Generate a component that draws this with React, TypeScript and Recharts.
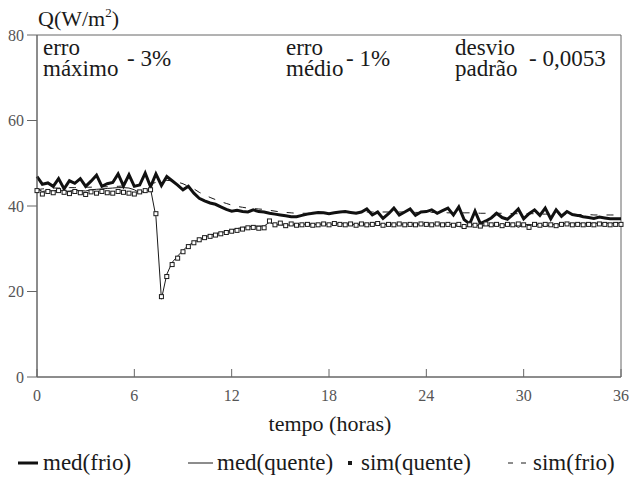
import React from "react";
import {
  LineChart,
  Line,
  XAxis,
  YAxis,
  ReferenceArea,
} from "recharts";

// tempo em horas (passo de 20 min)
const tempo = [
  0, 0.33, 0.67, 1, 1.33, 1.67, 2, 2.33, 2.67, 3, 3.33, 3.67,
  4, 4.33, 4.67, 5, 5.33, 5.67, 6, 6.33, 6.67, 7, 7.33, 7.67,
  8, 8.33, 8.67, 9, 9.33, 9.67, 10, 10.33, 10.67, 11, 11.33, 11.67,
  12, 12.33, 12.67, 13, 13.33, 13.67, 14, 14.33, 14.67, 15, 15.33, 15.67,
  16, 16.33, 16.67, 17, 17.33, 17.67, 18, 18.33, 18.67, 19, 19.33, 19.67,
  20, 20.33, 20.67, 21, 21.33, 21.67, 22, 22.33, 22.67, 23, 23.33, 23.67,
  24, 24.33, 24.67, 25, 25.33, 25.67, 26, 26.33, 26.67, 27, 27.33, 27.67,
  28, 28.33, 28.67, 29, 29.33, 29.67, 30, 30.33, 30.67, 31, 31.33, 31.67,
  32, 32.33, 32.67, 33, 33.33, 33.67, 34, 34.33, 34.67, 35, 35.33, 35.67,
  36,
];

const medFrio = [
  46.9, 45.1, 45.4, 44.6, 46.4, 44.0, 45.9, 45.3, 46.4, 44.6, 45.8, 47.2,
  44.6, 45.2, 45.5, 47.5, 44.7, 47.3, 44.6, 44.9, 47.7, 44.5, 47.5, 44.8,
  46.9, 45.9, 44.9, 43.8, 44.6, 43.0, 41.8, 41.2, 40.7, 40.4, 39.8, 39.2,
  38.8, 39.0, 38.7, 38.6, 39.1, 38.7, 38.6, 38.3, 38.1, 37.9, 37.7, 37.5,
  37.5, 37.8, 38.1, 38.3, 38.5, 38.4, 38.2, 38.4, 38.6, 38.7, 38.5, 38.3,
  38.6, 39.3, 37.9, 38.6, 37.1, 38.2, 39.5, 37.9, 38.6, 39.3, 37.8, 38.6,
  38.7, 39.1, 38.3, 38.9, 39.5, 37.9, 39.8, 36.8, 35.8, 38.8, 35.9, 36.5,
  37.2, 38.3, 37.3, 36.9, 38.0, 39.3, 37.0, 38.2, 39.1, 37.8, 39.5, 37.0,
  39.1, 37.6, 38.7, 38.0, 37.8, 37.5, 37.3, 37.1, 37.4, 37.2, 37.0, 37.0,
  37.0,
];

const medQuente = [
  44.0, 43.4, 43.6, 43.5, 43.8, 43.4, 43.5, 43.7, 43.6, 43.5, 43.8, 43.9,
  44.0, 44.1, 44.2, 44.3, 44.3, 44.2, 43.8, 43.1, 43.5, 44.0, 37.5, 18.2,
  24.0, 26.8, 28.3, 29.6, 30.8, 31.5, 32.2, 32.7, 33.2, 33.5, 33.8, 34.0,
  34.4, 34.7, 35.0, 35.1, 35.3, 35.3, 35.3, 36.2, 35.6, 35.6, 35.5, 35.6,
  35.6, 35.7, 35.8, 35.7, 35.7, 35.8, 35.7, 35.8, 35.9, 35.8, 35.8, 35.6,
  35.8, 35.7, 35.8, 35.9, 35.6, 35.8, 35.7, 35.8, 35.7, 35.8, 35.7, 35.8,
  35.8, 35.7, 35.8, 35.7, 35.8, 35.6, 35.2, 35.0, 35.4, 35.8, 35.1, 35.6,
  35.2, 35.7, 35.4, 35.8, 35.7, 35.0, 35.6, 35.7, 35.5, 35.8, 35.2, 35.6,
  35.7, 35.8, 35.9, 35.8, 35.9, 35.8, 35.9, 36.0, 35.9, 36.0, 35.9, 36.0,
  36.0,
];

const simQuente = [
  43.6, 42.8, 43.4, 43.1, 43.6, 43.2, 42.9, 43.4, 43.1, 42.7, 43.3, 43.0,
  43.4, 43.1, 43.0, 43.4, 43.2, 43.0, 42.8, 43.3, 43.6, 43.8, 38.2, 18.8,
  23.5, 26.3, 27.8, 29.3, 30.5, 31.4, 32.1, 32.6, 32.9, 33.2, 33.5, 33.8,
  34.1, 34.3, 34.6, 34.9, 35.0, 34.8, 34.9, 36.5, 35.6, 36.0, 35.4, 35.8,
  35.5, 35.6, 35.7, 35.5, 35.6, 35.8, 35.6, 35.9, 35.7, 35.6, 35.8, 35.5,
  35.8, 35.6, 35.7, 35.9, 35.5, 35.7, 35.6, 35.8, 35.6, 35.7, 35.6, 35.8,
  35.7, 35.6, 35.8, 35.6, 35.7, 35.5, 35.7, 35.2, 35.6, 35.5, 35.3, 35.8,
  35.6, 35.7, 35.4, 35.7, 35.6, 35.8, 35.6, 35.0, 35.7, 35.5, 35.7, 35.6,
  35.4, 35.7, 35.8, 35.6, 35.7, 35.6, 35.7, 35.6, 35.8, 35.7, 35.6, 35.7,
  35.7,
];

const simFrio = [
  43.8, 44.0, 44.1, 44.2, 44.2, 44.3, 44.3, 44.3, 44.4, 44.4, 44.4, 44.5,
  44.5, 44.5, 44.6, 44.6, 44.7, 44.7, 44.8, 44.9, 45.0, 45.2, 45.5, 45.8,
  46.0, 45.9, 45.6, 45.2, 44.6, 44.0, 43.2, 42.6, 42.0, 41.5, 41.0, 40.6,
  40.2, 39.9, 39.7, 39.5, 39.4, 39.3, 39.2, 39.0, 38.8, 38.6, 38.5, 38.4,
  38.3, 38.3, 38.3, 38.4, 38.4, 38.4, 38.5, 38.5, 38.5, 38.5, 38.5, 38.5,
  38.6, 38.6, 38.6, 38.6, 38.6, 38.6, 38.6, 38.6, 38.6, 38.6, 38.5, 38.5,
  38.5, 38.5, 38.5, 38.5, 38.4, 38.4, 38.4, 38.4, 38.4, 38.4, 38.3, 38.3,
  38.3, 38.3, 38.3, 38.3, 38.2, 38.2, 38.2, 38.2, 38.2, 38.1, 38.1, 38.1,
  38.1, 38.0, 38.0, 38.0, 38.0, 38.0, 38.0, 37.9, 37.9, 37.9, 37.9, 37.9,
  37.9,
];

const xTicks = [0, 6, 12, 18, 24, 30, 36];
const yTicks = [0, 20, 40, 60, 80];

const data = tempo.map((t, i) => ({
  t,
  medFrio: medFrio[i],
  medQuente: medQuente[i],
  simQuente: simQuente[i],
  simFrio: simFrio[i],
}));

// ticks keep the page default font: giving them a sans font made every serif text fall back to it
const serifFont = "Liberation Serif";
const ink = "#1a1a1a";
const axisGrey = "#666";

const XTick = (props: any) => {
  const { x, y, payload } = props;
  return (
    <g>
      <line x1={x} y1={y} x2={x} y2={y - 8} stroke={axisGrey} strokeWidth={1} />
      <text x={x} y={y + 24} textAnchor="middle" fontSize={16} fill="#555">
        {payload.value}
      </text>
    </g>
  );
};

const SquareDot = (props: any) => {
  const { cx, cy, index } = props;
  if (cx == null || cy == null) return <g key={`sq-${index}`} />;
  return (
    <rect
      key={`sq-${index}`}
      x={cx - 2}
      y={cy - 2}
      width={4}
      height={4}
      fill="#fff"
      stroke={ink}
      strokeWidth={1}
    />
  );
};

// textos do gráfico, desenhados em SVG por cima
const Labels = () => (
  <svg width={638} height={483} style={{ position: "absolute", left: 0, top: 0, pointerEvents: "none" }}>
    <g fill={ink}>
      <text x={38} y={26} fontSize={22} fontFamily={serifFont}>
        Q(W/m<tspan fontSize={13} dy={-9}>2</tspan><tspan dy={9}>)</tspan>
      </text>

      <text x={43} y={55} fontSize={23} fontFamily={serifFont}>erro</text>
      <text x={43} y={76} fontSize={23} fontFamily={serifFont}>máximo</text>
      <text x={127} y={66} fontSize={23} fontFamily={serifFont}>- 3%</text>
      <text x={286} y={55} fontSize={23} fontFamily={serifFont}>erro</text>
      <text x={286} y={76} fontSize={23} fontFamily={serifFont}>médio</text>
      <text x={346} y={66} fontSize={23} fontFamily={serifFont}>- 1%</text>
      <text x={455} y={55} fontSize={23} fontFamily={serifFont}>desvio</text>
      <text x={455} y={76} fontSize={23} fontFamily={serifFont}>padrão</text>
      <text x={529} y={66} fontSize={23} fontFamily={serifFont}>- 0,0053</text>

      <text x={330} y={431} fontSize={22} fontFamily={serifFont} textAnchor="middle">tempo (horas)</text>

      <line x1={18} y1={463} x2={38} y2={463} stroke="#111" strokeWidth={3} />
      <text x={43} y={470} fontSize={23} fontFamily={serifFont}>med(frio)</text>
      <line x1={188} y1={463} x2={213} y2={463} stroke={ink} strokeWidth={1} />
      <text x={217} y={470} fontSize={23} fontFamily={serifFont}>med(quente)</text>
      <rect x={348} y={461} width={4} height={4} fill={ink} />
      <text x={361} y={470} fontSize={23} fontFamily={serifFont}>sim(quente)</text>
      <line x1={508} y1={463} x2={528} y2={463} stroke={ink} strokeWidth={1} strokeDasharray="5 8" />
      <text x={533} y={470} fontSize={23} fontFamily={serifFont}>sim(frio)</text>
    </g>
  </svg>
);

export default function App() {
  return (
    <div style={{ position: "absolute", left: 0, top: 0, width: 638, height: 483, background: "#fff" }}>
      <LineChart
        width={638}
        height={483}
        data={data}
        margin={{ top: 35, right: 17, left: 0, bottom: 76 }}
      >
        <XAxis
          dataKey="t"
          type="number"
          domain={[0, 36]}
          ticks={xTicks}
          tick={<XTick />}
          tickLine={false}
          tickSize={0}
          tickMargin={0}
          height={30}
          stroke={axisGrey}
          interval={0}
        />
        <YAxis
          type="number"
          domain={[0, 80]}
          ticks={yTicks}
          width={37}
          tickSize={10}
          tickMargin={3}
          stroke={axisGrey}
          tick={{ fontSize: 16, fill: "#555" }}
          interval={0}
        />
        <ReferenceArea x1={0} x2={36} y1={0} y2={80} fill="none" stroke={axisGrey} strokeWidth={1} />
        <Line
          dataKey="simFrio"
          stroke={ink}
          strokeWidth={1}
          strokeDasharray="7 9"
          dot={false}
          type="linear"
          isAnimationActive={false}
        />
        <Line
          dataKey="medQuente"
          stroke={ink}
          strokeWidth={1}
          dot={false}
          type="linear"
          isAnimationActive={false}
        />
        <Line
          dataKey="simQuente"
          stroke="none"
          dot={<SquareDot />}
          type="linear"
          isAnimationActive={false}
        />
        <Line
          dataKey="medFrio"
          stroke="#111"
          strokeWidth={3}
          dot={false}
          type="linear"
          isAnimationActive={false}
        />
      </LineChart>
      <Labels />
    </div>
  );
}
